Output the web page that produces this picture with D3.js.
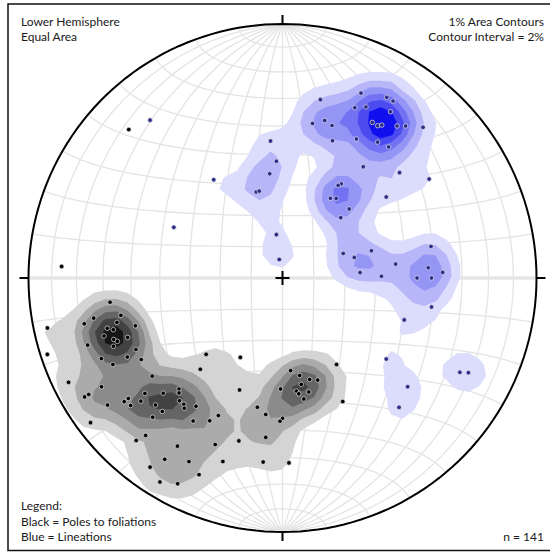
<!DOCTYPE html>
<html>
<head>
<meta charset="utf-8">
<script src="https://cdn.jsdelivr.net/npm/d3@7"></script>
<style>
  body { margin: 0; background: #fff; }
  svg { display: block; }
  text { font-family: Lato, "Open Sans", sans-serif; font-size: 12px; fill: #1a1a1a; }
</style>
</head>
<body>
<svg id="net" width="550" height="552"></svg>
<script>
// Lineations: [trend, plunge] in degrees
const lineations = [
  [320,20],[325,51],[295,51],[355,45],[357,52],[353,56],[343,61],[345,61],[352,76],[350,84],
  [12,29],[23,22],[23,28],[26,26],[30,19],[32,19],[33,23],[30,30],[32,30],[33,29],
  [37,26],[39,24],[43,20],[11,38],[15,36],[18,37],[20,42],[28,38],[35,35],[39,34],
  [36,45],[48,38],[56,31],[32,54],[31,55],[31,60],[34,59],[44,59],[44,63],[52,47],
  [68,69],[74,66],[73,60],[86,65],[89,58],[83,53],[78,40],[86,42],[88,37],[90,46],
  [90,41],[101,40],[109,48],[128,47],[131,35],[138,32],[118,22],[117,19]
];

// Poles to foliations: [trend, plunge] in degrees
const foliationPoles = [
  [314,17],[273,14],[262,32],[257,35],[258,25],[257,21],[255,33],[254,29],[253,31],[252,27],
  [250,30],[249,31],[248,29],[249,35],[252,39],[251,20],[244,36],[243,32],[246,23],[240,36],
  [243,26],[252,3],[225,55],[222,50],[233,36],[244,7],[239,18],[239,10],[239,12],[223,40],
  [222,39],[230,30],[226,35],[232,24],[232,22],[230,23],[229,27],[225,30],[220,37],[218,37],
  [217,36],[214,39],[234,16],[222,30],[223,26],[212,34],[207,37],[205,40],[233,6],[221,19],
  [222,15],[212,23],[208,61],[175,60],[148,57],[170,58],[165,56],[170,55],[161,55],[201,51],
  [181,54],[173,53],[172,52],[167,52],[170,50],[154,45],[191,47],[187,45],[180,44],[181,43],
  [186,37],[186,28],[178,28],[215,10],[207,10],[202,30],[258,6],[213,16],[207,20],[211,7],
  [203,17],[198,25],[195,34]
];

// Contour levels, percent of each data set per 1% of the net area
const contourLevels = [2, 4, 6, 8, 10, 12];
const blueFills = ["#dcdcfc", "#b6b6f8", "#9595f5", "#7272f2", "#4b4bef", "#1010ee"];
const grayFills = ["#d4d4d4", "#ababab", "#8b8b8b", "#656565", "#424242", "#161616"];

const headerLeft = ["Lower Hemisphere", "Equal Area"];
const headerRight = ["1% Area Contours", "Contour Interval = 2%"];
const legendLines = ["Legend:", "Black = Poles to foliations", "Blue = Lineations"];

const cx = 282.5, cy = 278, R = 254;
const rad = Math.PI / 180;
const svg = d3.select("#net");

// Equatorial-aspect Lambert azimuthal equal-area (Schmidt net), lower hemisphere
const proj = d3.geoAzimuthalEqualArea()
  .rotate([0, 0])
  .scale(R / Math.SQRT2)
  .translate([cx, cy])
  .clipAngle(90)
  .precision(0.2);
const path = d3.geoPath(proj);

// trend/plunge -> lon/lat where the view centre is straight down
function toLonLat([trend, plunge]) {
  const t = trend * rad, p = plunge * rad;
  const east = Math.cos(p) * Math.sin(t);
  const north = Math.cos(p) * Math.cos(t);
  const down = Math.sin(p);
  return [Math.atan2(east, down) / rad, Math.asin(north) / rad];
}

// frame
svg.append("rect")
  .attr("x", 8).attr("y", 4).attr("width", 580).attr("height", 546.5)
  .attr("fill", "none").attr("stroke", "#111").attr("stroke-width", 1.5);

// net graticule: great and small circles every 10 degrees
const graticule = d3.geoGraticule().extent([[-180, -90], [180, 90]]).step([10, 10]);
svg.append("path").datum(graticule())
  .attr("d", path).attr("fill", "none")
  .attr("stroke", "#e4e4e4").attr("stroke-width", 1.3);
svg.append("path")
  .datum({type: "LineString", coordinates: [[-90, 0], [-45, 0], [0, 0], [45, 0], [90, 0]]})
  .attr("d", path).attr("fill", "none")
  .attr("stroke", "#e6e6e6").attr("stroke-width", 3.5);

// density grid (1% area counting circle, lightly smoothed)
const step = 11;
const gx0 = cx - R - 3 * step, gy0 = cy - R - 3 * step;
const nx = Math.ceil((2 * R + 6 * step) / step) + 1, ny = nx;
const countR = 0.1 * R;
const gridX = d3.scaleLinear().domain([0.5, nx - 0.5]).range([gx0, gx0 + (nx - 1) * step]);
const gridY = d3.scaleLinear().domain([0.5, ny - 0.5]).range([gy0, gy0 + (ny - 1) * step]);
const gridPath = d3.geoPath(d3.geoTransform({
  point(x, y) { this.stream.point(gridX(x), gridY(y)); }
}));

function boxBlur(vals, passes) {
  let a = Float64Array.from(vals), b = new Float64Array(a.length);
  for (let p = 0; p < passes; p++) {
    for (let j = 0; j < ny; j++) for (let i = 0; i < nx; i++) {
      let s = 0, n = 0;
      for (let k = -1; k <= 1; k++) { const ii = i + k; if (ii >= 0 && ii < nx) { s += a[j * nx + ii]; n++; } }
      b[j * nx + i] = s / n;
    }
    for (let j = 0; j < ny; j++) for (let i = 0; i < nx; i++) {
      let s = 0, n = 0;
      for (let k = -1; k <= 1; k++) { const jj = j + k; if (jj >= 0 && jj < ny) { s += b[jj * nx + i]; n++; } }
      a[j * nx + i] = s / n;
    }
  }
  return a;
}

function densityGrid(data) {
  const pts = data.map(d => proj(toLonLat(d)));
  const vals = new Float64Array(nx * ny);
  for (let j = 0; j < ny; j++) {
    const py = gy0 + j * step;
    for (let i = 0; i < nx; i++) {
      const px = gx0 + i * step;
      let c = 0;
      for (const [x, y] of pts) {
        const dx = x - px, dy = y - py;
        if (dx * dx + dy * dy <= countR * countR) c++;
      }
      vals[j * nx + i] = 100 * c / data.length;
    }
  }
  return boxBlur(vals, 1);
}

const defs = svg.append("defs");
defs.append("clipPath").attr("id", "prim")
  .append("path").datum({type: "Sphere"}).attr("d", path);

const contourG = svg.append("g").attr("clip-path", "url(#prim)");
function drawContours(data, fills) {
  const vals = densityGrid(data);
  const polys = d3.contours().size([nx, ny]).thresholds(contourLevels)(vals);
  contourG.append("g").selectAll("path").data(polys).join("path")
    .attr("d", gridPath)
    .attr("fill", (d, i) => fills[i])
    .attr("stroke", "none");
}
drawContours(foliationPoles, grayFills);
drawContours(lineations, blueFills);

// primitive circle
svg.append("path").datum({type: "Sphere"})
  .attr("d", path).attr("fill", "none")
  .attr("stroke", "#000").attr("stroke-width", 2);

// N, E, S, W ticks
const tickLen = 9;
[[0, -1], [1, 0], [0, 1], [-1, 0]].forEach(([ux, uy]) => {
  svg.append("line")
    .attr("x1", cx + ux * R).attr("y1", cy + uy * R)
    .attr("x2", cx + ux * (R + tickLen)).attr("y2", cy + uy * (R + tickLen))
    .attr("stroke", "#000").attr("stroke-width", 2);
});

// data points
function drawPoints(data, fill) {
  svg.append("g").selectAll("circle").data(data).join("circle")
    .attr("cx", d => proj(toLonLat(d))[0])
    .attr("cy", d => proj(toLonLat(d))[1])
    .attr("r", 2.3)
    .attr("fill", fill)
    .attr("stroke", "#e2e2e2").attr("stroke-width", 0.7);
}
drawPoints(foliationPoles, "#000");
drawPoints(lineations, "#2c2c8c");

// centre cross
const arm = 7;
svg.append("path")
  .attr("d", `M${cx - arm},${cy}H${cx + arm}M${cx},${cy - arm}V${cy + arm}`)
  .attr("stroke", "#000").attr("stroke-width", 2).attr("fill", "none");

// labels
headerLeft.forEach((t, i) => svg.append("text").attr("x", 21).attr("y", 26 + i * 15).text(t));
headerRight.forEach((t, i) => svg.append("text").attr("x", 544).attr("y", 26 + i * 15)
  .attr("text-anchor", "end").text(t));
legendLines.forEach((t, i) => svg.append("text").attr("x", 21).attr("y", 510 + i * 15.5).text(t));
svg.append("text").attr("x", 544).attr("y", 541).attr("text-anchor", "end")
  .text(`n = ${lineations.length + foliationPoles.length}`);
</script>
</body>
</html>
